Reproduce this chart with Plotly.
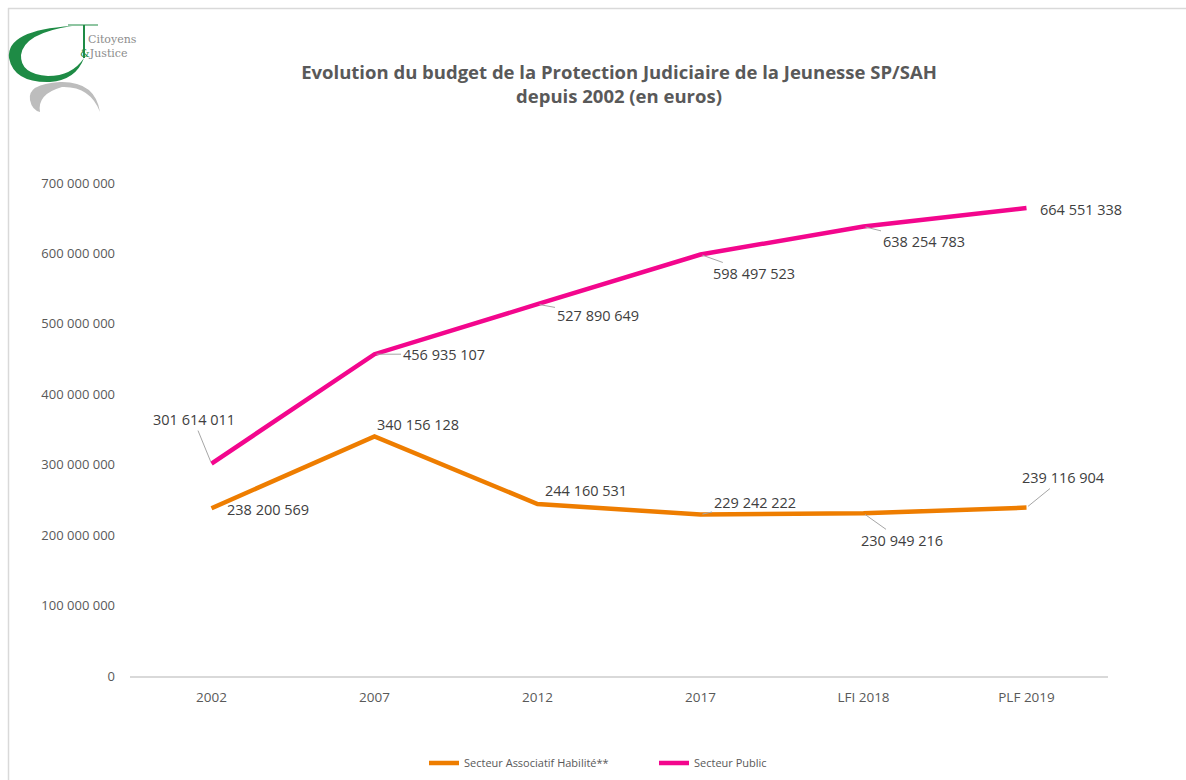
import plotly.graph_objects as go

categories = ["2002", "2007", "2012", "2017", "LFI 2018", "PLF 2019"]
sah_values = [238200569, 340156128, 244160531, 229242222, 230949216, 239116904]
public_values = [301614011, 456935107, 527890649, 598497523, 638254783, 664551338]
ytick_vals = [0, 100e6, 200e6, 300e6, 400e6, 500e6, 600e6, 700e6]

def fmt(v):
    return f"{int(v):,}".replace(",", " ")

ORANGE = "#EE7D00"
PINK = "#F3068D"
FONT = "Open Sans"

W, H = 1186, 780
L, R, T, B = 130, 78, 183, 104
PW, PH = W - L - R, H - T - B

def P(px, py):
    return f"{(px - L) / PW:.5f},{(H - B - py) / PH:.5f}"

fig = go.Figure()
fig.add_trace(go.Scatter(x=categories, y=sah_values, mode="lines", name="Secteur Associatif Habilité**",
                         line=dict(color=ORANGE, width=4.5), cliponaxis=False))
fig.add_trace(go.Scatter(x=categories, y=public_values, mode="lines", name="Secteur Public",
                         line=dict(color=PINK, width=4.5), cliponaxis=False))

# label offsets (pixels) and whether a leader line is drawn
pub_off = [(-18, -44, True), (69, 0, True), (60, 11, True), (53, 19, True), (60, 15, True), (54, 2, False)]
sah_off = [(56, 1, False), (43, -12, False), (48, -14, False), (54, -12, True), (38, 27, True), (37, -30, True)]

LABEL_FONT = dict(family=FONT, size=14.5, color="#404040")
annotations = []
for vals, offs in ((public_values, pub_off), (sah_values, sah_off)):
    for i, (v, (dx, dy, lead)) in enumerate(zip(vals, offs)):
        if lead:
            annotations.append(dict(x=i, y=v, xref="x", yref="y", text=fmt(v), showarrow=True,
                                    ax=dx, ay=dy, arrowhead=0, arrowwidth=1, arrowcolor="#A6A6A6",
                                    standoff=2, font=LABEL_FONT))
        else:
            annotations.append(dict(x=i, y=v, xref="x", yref="y", text=fmt(v), showarrow=False,
                                    xshift=dx, yshift=-dy, font=LABEL_FONT))

# logo text
annotations.append(dict(xref="paper", yref="paper", x=(86 - L) / PW, y=(H - B - 39) / PH,
                        text="Citoyens", showarrow=False, xanchor="left", yanchor="middle",
                        font=dict(family="DejaVu Serif", size=11, color="#8C8C8C")))
annotations.append(dict(xref="paper", yref="paper", x=(78 - L) / PW, y=(H - B - 54) / PH,
                        text="<span style='color:#1E8B45'>&amp;</span>Justice", showarrow=False,
                        xanchor="left", yanchor="middle",
                        font=dict(family="DejaVu Serif", size=11, color="#8C8C8C")))

shapes = [
    # frame
    dict(type="line", xref="paper", yref="paper", x0=(8 - L) / PW, x1=(W - L) / PW,
         y0=(H - B - 8.5) / PH, y1=(H - B - 8.5) / PH, line=dict(color="#D9D9D9", width=1.5)),
    dict(type="line", xref="paper", yref="paper", x0=(8.5 - L) / PW, x1=(8.5 - L) / PW,
         y0=(H - B - 8) / PH, y1=(H - B - H) / PH, line=dict(color="#D9D9D9", width=1.5)),
    # green crescent
    dict(type="path", xref="paper", yref="paper",
         path=f"M {P(72,26)} Q {P(6,30)} {P(9,58)} Q {P(14,83)} {P(50,82)} Q {P(76,80)} {P(84,58)} "
              f"Q {P(72,76)} {P(48,76)} Q {P(20,74)} {P(21,55)} Q {P(24,33)} {P(72,26)} Z",
         fillcolor="#1E8B45", line=dict(width=0)),
    dict(type="line", xref="paper", yref="paper", x0=(84 - L) / PW, x1=(84 - L) / PW,
         y0=(H - B - 25) / PH, y1=(H - B - 58) / PH, line=dict(color="#1E8B45", width=2)),
    dict(type="line", xref="paper", yref="paper", x0=(68 - L) / PW, x1=(98 - L) / PW,
         y0=(H - B - 25) / PH, y1=(H - B - 25) / PH, line=dict(color="#1E8B45", width=1)),
    # gray arc
    dict(type="path", xref="paper", yref="paper",
         path=f"M {P(100,112)} Q {P(95,81)} {P(60,82)} Q {P(27,84)} {P(30,100)} Q {P(32,110)} {P(40,112)} "
              f"Q {P(37,94)} {P(62,87)} Q {P(90,86)} {P(100,112)} Z",
         fillcolor="#BDBDBD", line=dict(width=0)),
]

fig.update_layout(
    width=W, height=H,
    margin=dict(l=L, r=R, t=T, b=B, autoexpand=False),
    paper_bgcolor="white", plot_bgcolor="white",
    font=dict(family=FONT, color="#595959"),
    title=dict(text="<b>Evolution du budget de la Protection Judiciaire de la Jeunesse SP/SAH<br>depuis 2002 (en euros)</b>",
               x=619 / W, xanchor="center", y=1 - 79 / H, yanchor="middle",
               font=dict(family=FONT, size=18.5, color="#595959")),
    xaxis=dict(showgrid=False, zeroline=False, showline=True, linecolor="#D9D9D9", linewidth=1.5,
               ticks="", tickfont=dict(size=13.5, color="#595959"), range=[-0.5, 5.5],
               ticklabelstandoff=8),
    yaxis=dict(range=[0, 700e6], tickvals=ytick_vals, ticktext=[fmt(v) for v in ytick_vals],
               showgrid=False, zeroline=False, showline=False, ticks="",
               tickfont=dict(size=13, color="#595959"), ticklabelstandoff=14),
    legend=dict(orientation="h", x=(424 - L) / PW, xanchor="left", y=(H - B - 763) / PH, yanchor="middle",
                font=dict(family=FONT, size=11, color="#595959"),
                itemwidth=30, entrywidth=185, entrywidthmode="pixels"),
    annotations=annotations,
    shapes=shapes,
)

fig.write_html("out.html", config={"displayModeBar": False},
               post_script="document.body.style.margin='0';")
